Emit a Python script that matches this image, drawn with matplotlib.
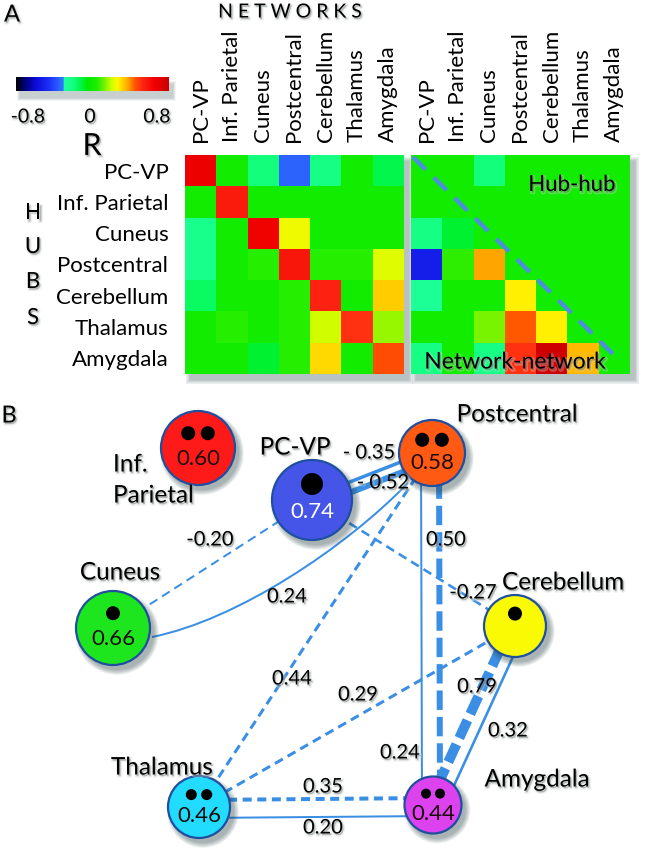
import numpy as np
import matplotlib
matplotlib.use("Agg")
import matplotlib.pyplot as plt
import matplotlib.patheffects as pe
from matplotlib.colors import LinearSegmentedColormap
from matplotlib.patches import Circle, Rectangle, PathPatch
from matplotlib.path import Path

plt.rcParams['font.family'] = ['Lato', 'DejaVu Sans']
plt.rcParams['lines.scale_dashes'] = False

# ---- data -------------------------------------------------------------
regions = ['PC-VP', 'Inf. Parietal', 'Cuneus', 'Postcentral',
           'Cerebellum', 'Thalamus', 'Amygdala']

# rows = hubs, columns = networks
hub_hub = np.array([
    [0.66, 0.00, -0.20, -0.35, -0.22, 0.00, -0.13],
    [0.00, 0.56, 0.00, 0.00, 0.00, 0.00, 0.00],
    [-0.24, 0.00, 0.64, 0.24, 0.00, 0.00, 0.00],
    [-0.24, 0.00, 0.05, 0.58, 0.05, 0.05, 0.22],
    [-0.16, 0.00, 0.00, 0.05, 0.54, 0.00, 0.32],
    [0.00, 0.05, 0.00, 0.05, 0.20, 0.50, 0.15],
    [0.00, 0.00, -0.10, 0.05, 0.30, 0.00, 0.46],
])
net_net = np.array([
    [0.00, 0.00, -0.20, 0.00, 0.00, 0.00, 0.00],
    [0.00, 0.00, 0.00, 0.00, 0.00, 0.00, 0.00],
    [-0.22, -0.10, 0.00, 0.00, 0.00, 0.00, 0.00],
    [-0.52, 0.06, 0.37, 0.00, 0.00, 0.00, 0.00],
    [-0.27, 0.00, 0.00, 0.27, 0.00, 0.00, 0.00],
    [0.00, 0.00, 0.13, 0.44, 0.27, 0.00, 0.00],
    [-0.22, 0.00, -0.22, 0.50, 0.79, 0.35, 0.00],
])
cbar_ticks = [-0.8, 0, 0.8]

node_values = [0.74, 0.60, 0.66, 0.58, None, 0.46, 0.44]
node_dots = [1, 2, 1, 2, 1, 2, 2]

edge_from = ['Cuneus', 'Cuneus', 'PC-VP', 'PC-VP', 'PC-VP', 'Postcentral', 'Postcentral',
             'Postcentral', 'Thalamus', 'Cerebellum', 'Cerebellum', 'Thalamus', 'Thalamus']
edge_to = ['PC-VP', 'Postcentral', 'Postcentral', 'Postcentral', 'Cerebellum', 'Amygdala',
           'Amygdala', 'Thalamus', 'Cerebellum', 'Amygdala', 'Amygdala', 'Amygdala', 'Amygdala']
edge_r = [-0.20, 0.24, -0.35, -0.52, -0.27, 0.24, 0.50, 0.44, 0.29, 0.79, 0.32, 0.35, 0.20]
edge_dashed = [True, False, False, False, True, False, True, True, True, True, False, True, False]

# ---- layout / style (pixels, y down) -----------------------------------
W, H = 660, 852
node_xy = {'PC-VP': (312, 500), 'Inf. Parietal': (198, 448), 'Cuneus': (113, 628),
           'Postcentral': (432, 453), 'Cerebellum': (515, 626), 'Thalamus': (199, 807),
           'Amygdala': (433, 805)}
node_rad = {'PC-VP': 40, 'Inf. Parietal': 37, 'Cuneus': 37, 'Postcentral': 33,
            'Cerebellum': 31, 'Thalamus': 31, 'Amygdala': 28.5}
dot_rad = {'PC-VP': 11, 'Inf. Parietal': 7, 'Cuneus': 7, 'Postcentral': 7,
           'Cerebellum': 7, 'Thalamus': 5.5, 'Amygdala': 5}
node_color = {'PC-VP': '#4455e8', 'Inf. Parietal': '#ff1a1a', 'Cuneus': '#1ee61e',
              'Postcentral': '#ff5a14', 'Cerebellum': '#fafa05', 'Thalamus': '#22dcff',
              'Amygdala': '#dc42ee'}
label_xy = {'PC-VP': (295, 448), 'Cuneus': (120, 573), 'Postcentral': (517, 415),
            'Cerebellum': (563, 583), 'Thalamus': (162, 768), 'Amygdala': (537, 780)}
edge_offset = [0, 0, -3, 7, 0, 11, -7, 0, 0, 4, -11, -7, 11]
edge_lw_px = [2, 2, 3.5, 6, 2.6, 2, 6, 3, 3, 10, 2.6, 4, 2]
edge_label_xy = [(210, 540), (287, 597), (369, 453), (383, 483), (473, 593), (400, 753),
                 (446, 540), (292, 679), (358, 695), (477, 687), (508, 731), (323, 787),
                 (323, 828)]
curve_ctrl = {1: [(152, 637), (237, 620), (345, 548), (408, 483)]}
EDGE_C = '#3a8ee4'

stops = [(-0.80, (0, 0, 0)), (-0.72, (0, 0, 110)), (-0.60, (10, 10, 215)),
         (-0.45, (30, 50, 250)), (-0.305, (50, 120, 255)), (-0.30, (30, 255, 160)),
         (-0.20, (20, 255, 125)), (-0.12, (0, 245, 70)), (-0.05, (0, 235, 0)),
         (0.05, (35, 238, 0)), (0.12, (110, 242, 0)), (0.20, (205, 255, 0)),
         (0.26, (255, 248, 0)), (0.33, (255, 200, 0)), (0.38, (255, 160, 0)),
         (0.44, (255, 90, 0)), (0.52, (255, 40, 20)), (0.65, (240, 0, 0)),
         (0.80, (205, 0, 0))]
VMIN, VMAX = -0.8, 0.8
cmap = LinearSegmentedColormap.from_list(
    'rcmap', [((v - VMIN) / (VMAX - VMIN), tuple(c / 255 for c in rgb)) for v, rgb in stops])

SHADOW = [pe.Stroke(offset=(1.0, -1.2), linewidth=2.2, foreground='#cfd6d6', alpha=0.35),
          pe.Normal()]

fig = plt.figure(figsize=(W / 100, H / 100), dpi=100)


def px_axes(x0, y0, x1, y1, **kw):
    return fig.add_axes([x0 / W, 1 - y1 / H, (x1 - x0) / W, (y1 - y0) / H], **kw)


bg = px_axes(0, 0, W, H, zorder=0)
bg.set_xlim(0, W)
bg.set_ylim(H, 0)
bg.axis('off')


def rect_shadow(ax, x0, y0, x1, y1, off=(5, 6), n=8):
    for k in range(n):
        ax.add_patch(Rectangle((x0 + off[0] - k * 0.6, y0 + off[1] - k * 0.6),
                               x1 - x0 + k * 1.2, y1 - y0 + k * 1.2,
                               facecolor='#506868', edgecolor='none', alpha=0.06))


def txt(ax, x, y, s, size, **kw):
    kw.setdefault('ha', 'center')
    kw.setdefault('va', 'center')
    return ax.text(x, y, s, fontsize=size, path_effects=SHADOW, **kw)


# ---- panel A -----------------------------------------------------------
L = (185, 155, 404, 374)
R = (411, 155, 630, 374)
CB = (16, 77, 169, 91)
rect_shadow(bg, *L)
rect_shadow(bg, *R)
rect_shadow(bg, *CB, off=(4, 7), n=6)

for box, mat, show_rows in [(L, hub_hub, True), (R, net_net, False)]:
    ax = px_axes(*box, zorder=1)
    ax.imshow(mat, cmap=cmap, vmin=VMIN, vmax=VMAX, aspect='auto', interpolation='nearest')
    ax.xaxis.tick_top()
    ax.set_xticks(range(len(regions)))
    ax.set_xticklabels(regions, rotation=90, fontsize=16)
    ax.tick_params(axis='x', length=0, pad=9)
    if show_rows:
        ax.set_yticks(range(len(regions)))
        ax.set_yticklabels(regions, fontsize=16)
        ax.tick_params(axis='y', length=0, pad=12)
    else:
        ax.set_yticks([])
    for sp in ax.spines.values():
        sp.set_visible(False)

cax = px_axes(*CB, zorder=1)
cax.imshow(np.linspace(VMIN, VMAX, 256)[None, :], cmap=cmap, vmin=VMIN, vmax=VMAX,
           aspect='auto', extent=(VMIN, VMAX, 0, 1))
cax.set_xticks([])
cax.set_yticks([])
for sp in cax.spines.values():
    sp.set_visible(False)

top = px_axes(0, 0, W, H, zorder=5)
top.set_xlim(0, W)
top.set_ylim(H, 0)
top.axis('off')

for v, x in zip(cbar_ticks, [28, 90, 157]):
    txt(top, x, 117, f"{v:g}", 14)
txt(top, 92, 146, 'R', 22)
txt(top, 12, 15, 'A', 17)
txt(top, 9, 416, 'B', 17)
txt(top, 290, 12, 'N E T W O R K S', 14)
for ch, y in zip('HUBS', [213, 247, 282, 318]):
    txt(top, 33, y, ch, 16)

top.plot([413, 620], [157, 361], color='#4a90dc', lw=3.2, ls=(0, (13, 8)),
         solid_capstyle='butt')
txt(top, 572, 185, 'Hub-hub', 16)
txt(top, 515, 362, 'Network-network', 16.5)

# ---- panel B -----------------------------------------------------------
for i, (a, b, r) in enumerate(zip(edge_from, edge_to, edge_r)):
    lw = edge_lw_px[i] * 0.72
    if edge_dashed[i]:
        ls = (0, (14, 5)) if lw > 3 else (0, (6.5, 4))
    else:
        ls = '-'
    if i in curve_ctrl:
        pts = curve_ctrl[i]
        path = Path(pts, [Path.MOVETO, Path.CURVE4, Path.CURVE4, Path.CURVE4])
        bg.add_patch(PathPatch(path, facecolor='none', edgecolor=EDGE_C, lw=lw,
                               linestyle=ls, zorder=2))
    else:
        p0 = np.array(node_xy[a], float)
        p1 = np.array(node_xy[b], float)
        d = (p1 - p0) / np.linalg.norm(p1 - p0)
        n = np.array([-d[1], d[0]])
        q0 = p0 + n * edge_offset[i]
        q1 = p1 + n * edge_offset[i]
        bg.plot([q0[0], q1[0]], [q0[1], q1[1]], color=EDGE_C, lw=lw, ls=ls,
                solid_capstyle='butt', dash_capstyle='butt', zorder=2)
    s = f"{r:.2f}"
    if i in (2, 3):
        s = s.replace('-', '- ')
    lx, ly = edge_label_xy[i]
    txt(bg, lx, ly, s, 14.5, zorder=6)

for name, val, nd in zip(regions, node_values, node_dots):
    cx, cy = node_xy[name]
    rad = node_rad[name]
    for k in range(7):
        bg.add_patch(Circle((cx + 4, cy + 5), rad + k * 0.8, facecolor='#304848',
                            edgecolor='none', alpha=0.07, zorder=3))
    bg.add_patch(Circle((cx, cy), rad, facecolor=node_color[name], edgecolor='#1f4f9e',
                        lw=1.6, zorder=4))
    dr = dot_rad[name]
    dy = cy - 0.4 * rad
    xs = [cx] if nd == 1 else [cx - dr * 1.4, cx + dr * 1.4]
    for x in xs:
        bg.add_patch(Circle((x, dy), dr, facecolor='black', edgecolor='none', zorder=5))
    if val is not None:
        bg.text(cx, cy + 0.3 * rad, f"{val:.2f}", fontsize=16, ha='center', va='center',
                color='white' if name == 'PC-VP' else '#1a0a0a', zorder=6)
    if name in label_xy:
        lx, ly = label_xy[name]
        txt(bg, lx, ly, name, 17.5, zorder=6)

# Inf. Parietal label sits on two lines beside its node
txt(bg, 113, 465, 'Inf.', 17.5, ha='left', zorder=6)
txt(bg, 113, 496, 'Parietal', 17.5, ha='left', zorder=6)

fig.savefig('out.png', dpi=100, facecolor='white')
